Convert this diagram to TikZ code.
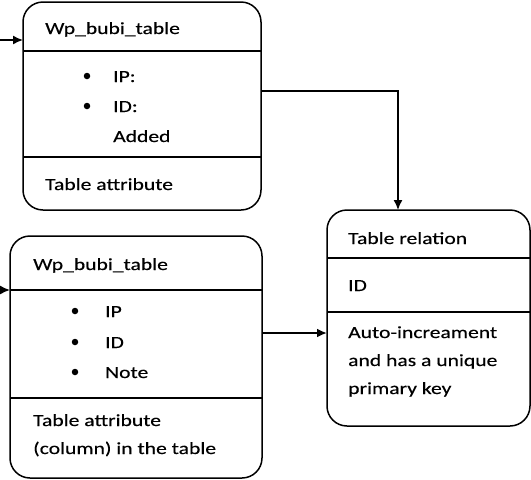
\documentclass[tikz,border=0pt]{standalone}
\usepackage{fontspec}
\setmainfont[FakeStretch=1.27,FakeBold=0.3]{Carlito}
\usetikzlibrary{arrows.meta}
\begin{document}
\begin{tikzpicture}[x=1pt,y=-1pt,
  box/.style={draw,line width=1.5pt,rounded corners=20pt},
  sep/.style={line width=1.5pt},
  conn/.style={line width=1.5pt,-{Latex[length=10pt,width=9pt]}},
  txt/.style={anchor=base west,inner sep=0pt,font=\fontsize{17}{20}\selectfont},
  dot/.style={circle,fill,inner sep=0pt,minimum size=6.5pt}]
\useasboundingbox (0,0) rectangle (531,480);
% Box 1
\draw[box] (23,2) rectangle (261,210);
\coordinate (b1w) at (23,40);
\coordinate (b1e) at (261,91);
\draw[sep] (23,51) -- (261,51);
\draw[sep] (23,157) -- (261,157);
\node[txt] (t1) at (45,34) {Wp\_bubi\_table};
\node[dot] (d11) at (87,76) {};
\node[dot] (d12) at (87,106) {};
\node[txt] (i11) at (113,82) {IP:};
\node[txt] (i12) at (113,112) {ID:};
\node[txt] (i13) at (113,142) {Added};
\node[txt] (a1) at (45,190) {Table attribute};
% Box 2
\draw[box] (10,236) rectangle (262,478);
\coordinate (b2w) at (10,290);
\coordinate (b2e) at (262,333);
\draw[sep] (10,290) -- (262,290);
\draw[sep] (10,398) -- (262,398);
\node[txt] (t2) at (33,270) {Wp\_bubi\_table};
\node[dot] (d21) at (75,311) {};
\node[dot] (d22) at (75,342) {};
\node[dot] (d23) at (75,372) {};
\node[txt] (i21) at (105,317) {IP};
\node[txt] (i22) at (105,348) {ID};
\node[txt] (i23) at (105,378) {Note};
\node[txt] (a21) at (33,426) {Table attribute};
\node[txt] (a22) at (33,454) {(column) in the table};
% Box 3
\draw[box] (327,210) rectangle (530,426);
\coordinate (b3n) at (398,210);
\coordinate (b3w) at (327,333);
\draw[sep] (327,258) -- (530,258);
\draw[sep] (327,312) -- (530,312);
\node[txt] (t3) at (348,244) {Table relation};
\node[txt] (r1) at (348,291) {ID};
\node[txt] (r2) at (348,338) {Auto-increament};
\node[txt] (r3) at (348,366) {and has a unique};
\node[txt] (r4) at (348,394) {primary key};
% Connectors
\coordinate (in1) at (0,40);
\coordinate (in2) at (0,290);
\draw[conn] (in1) -- (b1w);
\draw[conn] (in2) -- (b2w);
\draw[conn] (b1e) -- (b3n |- b1e) -- (b3n);
\draw[conn,line width=2.2pt] (b2e) -- (b3w);
\end{tikzpicture}
\end{document}
